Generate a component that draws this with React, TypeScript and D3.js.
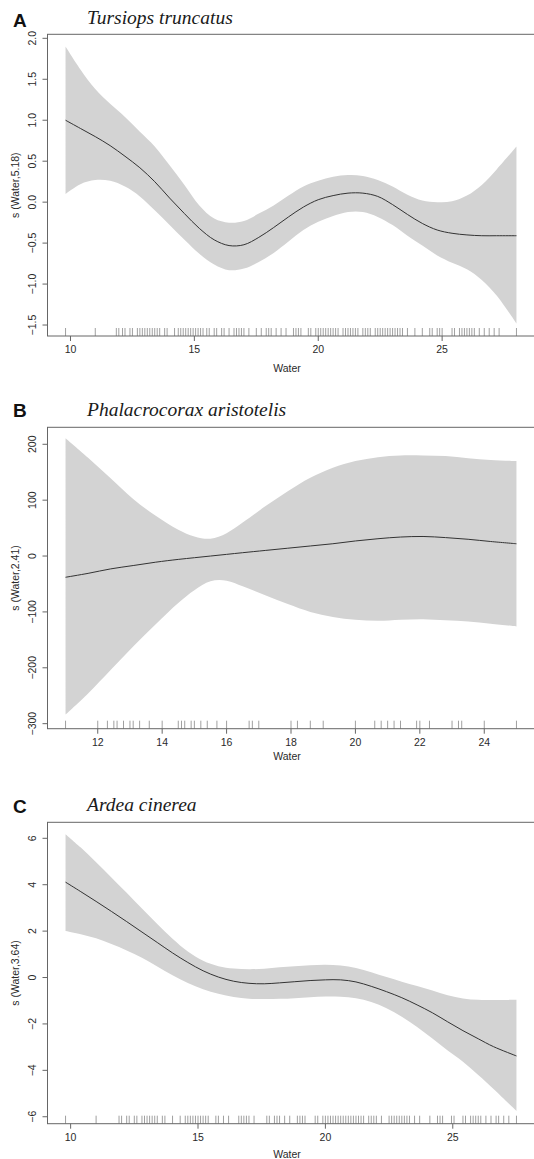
import React from "react";
import * as d3 from "d3";

// ---------- Panel A: Tursiops truncatus ----------
const waterA = [9.8, 10.4, 11.0, 11.6, 12.2, 12.8, 13.4, 14.0, 14.6, 15.2, 15.8, 16.4, 17.0, 17.6, 18.2, 18.8, 19.4, 20.0, 20.6, 21.2, 21.8, 22.4, 23.0, 23.6, 24.2, 24.8, 25.4, 26.0, 26.6, 27.2, 28.0];
const fitA = [1.0, 0.9, 0.8, 0.69, 0.56, 0.42, 0.25, 0.05, -0.14, -0.32, -0.46, -0.53, -0.52, -0.43, -0.31, -0.18, -0.06, 0.03, 0.08, 0.11, 0.11, 0.07, -0.03, -0.15, -0.26, -0.34, -0.38, -0.4, -0.41, -0.41, -0.41];
const upperA = [1.9, 1.62, 1.38, 1.2, 1.04, 0.86, 0.68, 0.45, 0.21, -0.04, -0.2, -0.25, -0.23, -0.14, -0.04, 0.08, 0.19, 0.26, 0.31, 0.33, 0.32, 0.27, 0.19, 0.09, 0.02, 0.0, 0.01, 0.08, 0.21, 0.4, 0.68];
const lowerA = [0.1, 0.22, 0.27, 0.26, 0.19, 0.07, -0.1, -0.28, -0.46, -0.63, -0.76, -0.83, -0.81, -0.73, -0.62, -0.48, -0.34, -0.24, -0.17, -0.12, -0.12, -0.18, -0.28, -0.41, -0.53, -0.65, -0.74, -0.82, -0.95, -1.14, -1.48];
const rugA = [9.8, 11.0, 11.85, 11.95, 12.1, 12.2, 12.4, 12.5, 12.7, 12.8, 12.9, 13.0, 13.1, 13.2, 13.3, 13.4, 13.5, 13.6, 13.8, 13.9, 14.2, 14.35, 14.45, 14.55, 14.65, 14.75, 14.85, 14.95, 15.05, 15.15, 15.25, 15.35, 15.5, 15.6, 15.8, 15.9, 16.1, 16.2, 16.4, 16.6, 16.7, 16.8, 16.9, 17.0, 17.2, 17.5, 17.7, 17.9, 18.0, 18.1, 18.3, 18.5, 18.7, 19.0, 19.1, 19.2, 19.3, 19.6, 19.7, 19.9, 20.0, 20.1, 20.2, 20.3, 20.4, 20.5, 20.6, 20.7, 20.8, 21.0, 21.1, 21.2, 21.3, 21.4, 21.5, 21.6, 21.8, 21.9, 22.0, 22.1, 22.3, 22.4, 22.5, 22.6, 22.7, 22.8, 22.9, 23.0, 23.1, 23.2, 23.3, 23.4, 23.6, 23.9, 24.2, 24.5, 24.6, 24.8, 24.9, 25.0, 25.4, 25.5, 25.7, 25.8, 25.9, 26.0, 26.1, 26.2, 26.3, 26.5, 26.7, 26.9, 27.1, 27.3, 28.0];
const xTicksA = [10, 15, 20, 25];
const yTicksA = [-1.5, -1.0, -0.5, 0.0, 0.5, 1.0, 1.5, 2.0];

// ---------- Panel B: Phalacrocorax aristotelis ----------
const waterB = [11.0, 11.7, 12.4, 13.1, 13.8, 14.5, 15.0, 15.5, 16.0, 16.5, 17.2, 17.9, 18.6, 19.3, 20.0, 20.7, 21.4, 22.1, 22.8, 23.5, 24.2, 25.0];
const fitB = [-38, -31, -23, -17, -11, -6, -3, 0, 3, 6, 10, 14, 18, 22, 27, 31, 34, 35, 33, 30, 26, 22];
const upperB = [211, 176, 139, 102, 72, 47, 35, 31, 41, 60, 89, 116, 140, 158, 170, 177, 180, 180, 179, 175, 172, 170];
const lowerB = [-284, -246, -204, -162, -122, -84, -61, -45, -44, -54, -70, -86, -100, -109, -114, -116, -114, -113, -115, -117, -121, -126];
const rugB = [11.0, 12.0, 12.3, 12.5, 12.6, 12.8, 13.0, 13.1, 13.3, 13.6, 14.0, 14.5, 14.6, 14.7, 14.9, 15.0, 15.2, 15.4, 15.7, 16.0, 16.7, 16.8, 17.0, 18.0, 18.2, 18.6, 19.0, 20.0, 20.6, 20.8, 21.0, 21.2, 21.4, 21.9, 22.0, 22.3, 23.0, 23.2, 23.3, 24.0, 25.0];
const xTicksB = [12, 14, 16, 18, 20, 22, 24];
const yTicksB = [-300, -200, -100, 0, 100, 200];

// ---------- Panel C: Ardea cinerea ----------
const waterC = [9.8, 10.4, 11.0, 11.6, 12.2, 12.8, 13.4, 14.0, 14.6, 15.2, 15.8, 16.4, 17.0, 17.6, 18.2, 18.8, 19.4, 20.0, 20.6, 21.2, 21.8, 22.4, 23.0, 23.6, 24.2, 24.8, 25.4, 26.0, 26.6, 27.5];
const fitC = [4.11, 3.7, 3.28, 2.85, 2.41, 1.96, 1.51, 1.06, 0.65, 0.29, 0.02, -0.16, -0.25, -0.27, -0.23, -0.18, -0.13, -0.1, -0.1, -0.19, -0.38, -0.61, -0.87, -1.18, -1.52, -1.91, -2.29, -2.64, -2.98, -3.38];
const upperC = [6.18, 5.6, 4.97, 4.31, 3.65, 2.97, 2.31, 1.67, 1.12, 0.72, 0.49, 0.39, 0.36, 0.38, 0.44, 0.49, 0.53, 0.55, 0.52, 0.41, 0.23, 0.02, -0.18, -0.37, -0.56, -0.76, -0.9, -0.96, -0.97, -0.96];
const lowerC = [2.01, 1.87, 1.69, 1.44, 1.17, 0.85, 0.48, 0.1, -0.24, -0.5, -0.7, -0.84, -0.91, -0.93, -0.92, -0.89, -0.85, -0.82, -0.83, -0.89, -1.05, -1.32, -1.69, -2.13, -2.63, -3.15, -3.63, -4.2, -4.8, -5.75];
const rugC = [9.8, 11.0, 11.9, 12.0, 12.2, 12.3, 12.5, 12.6, 12.8, 12.9, 13.0, 13.1, 13.2, 13.3, 13.4, 13.6, 13.7, 14.0, 14.3, 14.5, 14.6, 14.7, 14.8, 14.9, 15.0, 15.1, 15.2, 15.3, 15.4, 15.7, 15.8, 16.0, 16.2, 16.6, 16.7, 16.8, 16.9, 17.0, 17.2, 17.7, 17.8, 18.0, 18.1, 18.2, 18.4, 18.6, 18.9, 19.0, 19.1, 19.2, 19.6, 19.7, 19.9, 20.0, 20.1, 20.2, 20.3, 20.4, 20.5, 20.6, 20.7, 20.8, 20.9, 21.0, 21.1, 21.2, 21.3, 21.4, 21.5, 21.7, 21.8, 21.9, 22.0, 22.2, 22.5, 22.6, 22.7, 22.8, 22.9, 23.0, 23.1, 23.2, 23.3, 23.5, 23.7, 24.1, 24.4, 24.5, 24.6, 24.95, 25.05, 25.4, 25.5, 25.7, 25.8, 25.9, 26.0, 26.1, 26.3, 26.5, 26.7, 26.8, 27.0, 27.2, 27.5];
const xTicksC = [10, 15, 20, 25];
const yTicksC = [-6, -4, -2, 0, 2, 4, 6];

const W = 534;
const H = 1159;
const LEFT = 47.5;
const RIGHT = 534.5;

type PanelProps = {
  letter: string;
  title: string;
  ylab: string;
  water: number[];
  fit: number[];
  upper: number[];
  lower: number[];
  rug: number[];
  xTicks: number[];
  yTicks: number[];
  yFmt: (v: number) => string;
  xDomain: [number, number];
  yDomain: [number, number];
  top: number;
  bottom: number;
  titleY: number;
  letterY: number;
  xlabY: number;
};

function fmtSigned(s: string) {
  return s.replace("-", "\u2212");
}

function Panel(p: PanelProps) {
  const x = d3.scaleLinear().domain(p.xDomain).range([LEFT, RIGHT]);
  const y = d3.scaleLinear().domain(p.yDomain).range([p.bottom, p.top]);
  const idx = p.water.map((_, i) => i);
  const area = d3
    .area<number>()
    .x((i) => x(p.water[i]))
    .y0((i) => y(p.lower[i]))
    .y1((i) => y(p.upper[i]))
    .curve(d3.curveCatmullRom.alpha(0.5));
  const line = d3
    .line<number>()
    .x((i) => x(p.water[i]))
    .y((i) => y(p.fit[i]))
    .curve(d3.curveCatmullRom.alpha(0.5));
  const axisCol = "#666";
  const textCol = "#2a2a2a";
  const midY = (p.top + p.bottom) / 2;
  return (
    <g>
      <text x={13} y={p.letterY} fontFamily="Liberation Sans, Arial, sans-serif" fontWeight="bold" fontSize={19} fill="#111">
        {p.letter}
      </text>
      <text x={87} y={p.titleY} fontFamily="Liberation Serif, Times New Roman, serif" fontStyle="italic" fontSize={19.5} fill="#1a1a1a">
        {p.title}
      </text>
      <path d={area(idx) || ""} fill="#d3d3d3" stroke="none" />
      <path d={line(idx) || ""} fill="none" stroke="#333" strokeWidth={1} />
      {p.rug.map((v, i) => (
        <line key={"r" + i} x1={x(v)} x2={x(v)} y1={p.bottom} y2={p.bottom - 8} stroke="#888" strokeWidth={0.8} />
      ))}
      <rect x={LEFT} y={p.top} width={RIGHT - LEFT} height={p.bottom - p.top} fill="none" stroke={axisCol} strokeWidth={1} />
      {p.xTicks.map((t) => (
        <g key={"x" + t}>
          <line x1={x(t)} x2={x(t)} y1={p.bottom} y2={p.bottom + 5} stroke={axisCol} strokeWidth={1} />
          <text x={x(t)} y={p.bottom + 17} textAnchor="middle" fontFamily="Liberation Sans, Arial, sans-serif" fontSize={10.5} fill={textCol}>
            {t}
          </text>
        </g>
      ))}
      {p.yTicks.map((t) => (
        <g key={"y" + t}>
          <line x1={LEFT} x2={LEFT - 5} y1={y(t)} y2={y(t)} stroke={axisCol} strokeWidth={1} />
          <text
            transform={`translate(${36},${y(t)}) rotate(-90)`}
            textAnchor="middle"
            fontFamily="Liberation Sans, Arial, sans-serif"
            fontSize={10.5}
            fill={textCol}
          >
            {fmtSigned(p.yFmt(t))}
          </text>
        </g>
      ))}
      <text x={287} y={p.xlabY} textAnchor="middle" fontFamily="Liberation Sans, Arial, sans-serif" fontSize={10.5} fill={textCol}>
        Water
      </text>
      <text
        transform={`translate(${19},${midY}) rotate(-90)`}
        textAnchor="middle"
        fontFamily="Liberation Sans, Arial, sans-serif"
        fontSize={10.5}
        fill={textCol}
      >
        {p.ylab}
      </text>
    </g>
  );
}

export default function App() {
  const f1 = d3.format(".1f");
  const f0 = d3.format("d");
  return (
    <svg width={W} height={H} style={{ position: "absolute", left: 0, top: 0, background: "#fff" }}>
      <rect width={W} height={H} fill="#fff" />
      <Panel
        letter="A"
        title="Tursiops truncatus"
        ylab="s (Water,5.18)"
        water={waterA}
        fit={fitA}
        upper={upperA}
        lower={lowerA}
        rug={rugA}
        xTicks={xTicksA}
        yTicks={yTicksA}
        yFmt={f1}
        xDomain={[9.072, 28.728]}
        yDomain={[-1.634, 2.049]}
        top={34.3}
        bottom={336}
        titleY={24}
        letterY={27}
        xlabY={372}
      />
      <Panel
        letter="B"
        title="Phalacrocorax aristotelis"
        ylab="s (Water,2.41)"
        water={waterB}
        fit={fitB}
        upper={upperB}
        lower={lowerB}
        rug={rugB}
        xTicks={xTicksB}
        yTicks={yTicksB}
        yFmt={f0}
        xDomain={[10.44, 25.56]}
        yDomain={[-309, 230.4]}
        top={427.3}
        bottom={728.7}
        titleY={416}
        letterY={417}
        xlabY={760}
      />
      <Panel
        letter="C"
        title="Ardea cinerea"
        ylab="s (Water,3.64)"
        water={waterC}
        fit={fitC}
        upper={upperC}
        lower={lowerC}
        rug={rugC}
        xTicks={xTicksC}
        yTicks={yTicksC}
        yFmt={f0}
        xDomain={[9.092, 28.208]}
        yDomain={[-6.3, 6.69]}
        top={822.3}
        bottom={1123.7}
        titleY={811}
        letterY={813}
        xlabY={1157.5}
      />
    </svg>
  );
}
